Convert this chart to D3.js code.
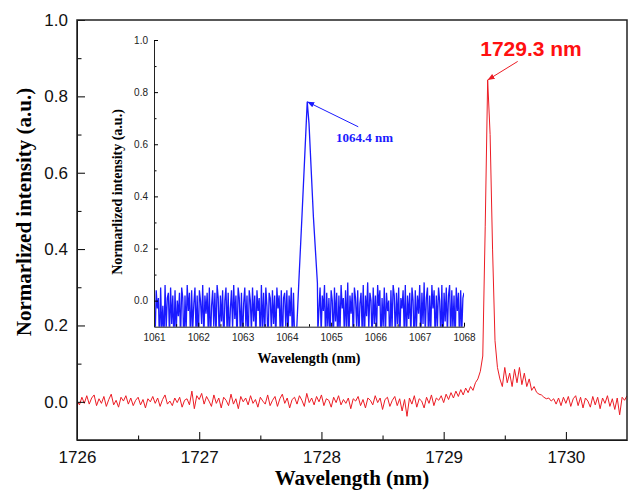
<!DOCTYPE html>
<html>
<head>
<meta charset="utf-8">
<script src="https://cdnjs.cloudflare.com/ajax/libs/d3/7.8.5/d3.min.js"></script>
<style>
  body { margin: 0; background: #fff; }
  svg { display: block; }
  .tick text { font-family: Arial, "Liberation Sans", sans-serif; fill: #111; }
  .title { font-family: "Times New Roman", "Liberation Serif", serif; font-weight: bold; }
</style>
</head>
<body>
<div id="chart"></div>
<script>
// ---- main spectrum (1726 - 1730.5 nm), one value every 0.02 nm ----
var mainStart = 1726.0,
    mainStep = 0.02;
var mainIntensity = [
  0.002, -0.008, 0.012, -0.004, 0.016, -0.006, 0.010, 0.018, -0.010, 0.008,
  -0.004, 0.014, -0.012, 0.006, 0.020, -0.008, 0.004, -0.014, 0.012, 0.002,
  0.016, -0.006, 0.010, -0.010, 0.004, 0.012, -0.008, 0.006, -0.016, 0.008,
  0.000, 0.014, -0.004, 0.010, -0.012, 0.006, 0.018, -0.006, 0.002, -0.010,
  0.010, -0.002, 0.012, -0.014, 0.004, 0.008, -0.008, 0.028, -0.018, 0.016,
  0.006, 0.022, -0.006, 0.014, 0.002, -0.012, 0.018, -0.004, 0.010, -0.016,
  0.012, 0.004, -0.010, 0.020, -0.006, 0.008, -0.018, 0.014, 0.000, 0.010,
  -0.008, 0.016, -0.004, 0.006, -0.014, 0.012, 0.002, -0.006, 0.018, -0.010,
  0.004, 0.014, -0.012, 0.008, 0.020, -0.004, 0.010, -0.016, 0.006, 0.012,
  -0.006, 0.016, 0.004, -0.012, 0.022, -0.002, 0.010, -0.008, 0.014, 0.000,
  0.018, -0.010, 0.008, 0.004, -0.014, 0.012, -0.002, 0.016, -0.008, 0.006,
  -0.004, 0.010, -0.018, 0.008, 0.002, 0.014, -0.010, 0.006, -0.016, 0.010,
  0.004, -0.008, 0.016, -0.002, 0.010, -0.020, 0.006, 0.012, -0.012, 0.004,
  0.014, -0.010, 0.008, -0.024, 0.006, -0.038, 0.010, -0.006, 0.016, -0.014,
  0.008, 0.002, -0.016, 0.012, -0.004, 0.018, -0.010, 0.010, 0.004, 0.016,
  -0.002, 0.020, 0.006, 0.024, 0.010, 0.028, 0.014, 0.032, 0.018, 0.036,
  0.024, 0.040, 0.030, 0.050, 0.060, 0.080, 0.120, 0.460, 0.843, 0.700,
  0.400, 0.160, 0.090, 0.060, 0.040, 0.090, 0.050, 0.075, 0.040, 0.085,
  0.050, 0.090, 0.045, 0.075, 0.040, 0.060, 0.030, 0.040, 0.025, 0.020,
  0.018, 0.012, 0.008, 0.010, 0.002, 0.008, -0.006, 0.010, -0.010, 0.012,
  -0.004, 0.014, -0.012, 0.008, 0.016, -0.010, 0.012, -0.016, 0.010, 0.002,
  -0.014, 0.014, -0.008, 0.012, -0.018, 0.010, -0.004, 0.016, -0.012, 0.008,
  -0.020, 0.010, -0.034, 0.012, 0.004, 0.016
];
var mainXTicks = [1726, 1727, 1728, 1729, 1730];
var mainYTicks = [0.0, 0.2, 0.4, 0.6, 0.8, 1.0];
var mainPeak = {wl: 1729.36, value: 0.843, label: "1729.3 nm"};

// ---- inset spectrum (1061 - 1068 nm) ----
var insetLeftStart = 1061.0,
    insetRightStart = 1064.75,
    insetStep = 0.025;
var insetLeftNoise = [
  0.02,-0.15,0.04,-0.03,0.01,-0.18,0.05,-0.12,-0.02,-0.16,
  0.06,-0.11,0.01,0.03,-0.14,0.05,-0.09,0.02,-0.17,0.04,
  -0.13,0.00,-0.06,0.03,-0.15,0.05,0.01,-0.19,0.02,-0.12,
  0.06,-0.04,0.03,-0.16,0.04,-0.11,-0.01,0.05,-0.13,0.02,
  -0.18,0.04,0.00,-0.09,0.06,-0.15,0.02,-0.05,0.03,-0.12,
  0.05,-0.17,-0.02,0.04,-0.10,0.03,-0.14,0.06,0.01,-0.16,
  0.02,-0.08,0.04,-0.18,0.00,0.05,-0.12,0.03,-0.15,-0.03,
  0.04,-0.11,0.06,-0.07,0.02,-0.17,0.05,0.01,-0.13,0.03,
  -0.16,-0.01,0.05,-0.10,0.02,-0.19,0.04,0.00,-0.12,0.05,
  -0.08,0.02,-0.15,0.04,-0.04,0.01,-0.16,0.06,-0.11,0.03,
  -0.14,0.05,-0.02,-0.17,0.03,0.01,-0.12,0.04,-0.09,0.02,
  -0.16,0.05,-0.03,0.02,-0.13,0.04,-0.18,0.01,0.03,-0.10,
  0.04,-0.15,0.02,-0.06,0.05,-0.17,0.03,-0.14,-0.16
];
var insetPeakWl  = [1064.22, 1064.27, 1064.34, 1064.40, 1064.46, 1064.50, 1064.60, 1064.69, 1064.70];
var insetPeakVal = [-0.12,   0.07,    0.32,    0.54,    0.763,   0.68,    0.32,    0.067,   -0.12];
var insetRightNoise = [
  0.05,-0.13,0.02,-0.04,0.06,-0.17,0.03,-0.10,0.01,-0.15,
  0.04,0.00,-0.16,0.05,-0.08,0.03,-0.18,0.02,-0.12,0.06,
  -0.03,0.01,-0.14,0.04,-0.11,0.07,-0.16,0.02,-0.05,0.03,
  -0.17,0.05,0.01,-0.10,0.04,-0.15,-0.01,0.03,-0.12,0.06,
  -0.18,0.02,-0.06,0.07,-0.11,0.03,0.00,-0.16,0.05,-0.09,
  0.02,-0.13,0.06,-0.02,0.04,-0.17,0.01,-0.10,0.05,-0.14,
  0.03,-0.04,0.00,-0.18,0.04,-0.11,0.06,0.02,-0.15,0.03,
  -0.09,0.05,-0.16,0.01,-0.03,0.04,-0.12,0.06,-0.17,0.02,
  -0.07,0.03,-0.14,0.05,0.00,-0.18,0.04,-0.11,0.02,-0.05,
  0.06,-0.15,0.03,-0.09,0.07,-0.13,0.01,0.05,-0.17,0.02,
  -0.12,0.06,-0.03,0.04,-0.16,0.02,-0.10,0.05,0.00,-0.14,
  0.06,-0.18,0.03,-0.08,0.05,-0.13,0.02,0.06,-0.15,0.04,
  -0.11,0.02,-0.16,0.05,-0.04,0.03,-0.17,0.04,-0.12,0.01,
  0.03
];
var insetXTicks = [1061, 1062, 1063, 1064, 1065, 1066, 1067, 1068];
var insetYTicks = [0.0, 0.2, 0.4, 0.6, 0.8, 1.0];
var insetPeak = {wl: 1064.46, value: 0.763, label: "1064.4 nm"};

var RED = "#ec1c24", LABEL_RED = "#ff1010", BLUE = "#1a1aff";

var svg = d3.select("#chart")
  .append("svg")
    .attr("width", 631)
    .attr("height", 494);

var defs = svg.append("defs");
[["arrowRed", RED], ["arrowBlue", BLUE]].forEach(function (m) {
  defs.append("marker")
      .attr("id", m[0])
      .attr("viewBox", "0 -5 10 10")
      .attr("refX", 10)
      .attr("refY", 0)
      .attr("markerWidth", 7)
      .attr("markerHeight", 7)
      .attr("markerUnits", "userSpaceOnUse")
      .attr("orient", "auto")
    .append("path")
      .attr("d", "M0,-4L10,0L0,4Z")
      .attr("fill", m[1]);
});

// ================= main chart =================
var main = {left: 77, right: 627, top: 20, bottom: 440};

var xScale = d3.scaleLinear().domain([1726, 1730.5]).range([main.left, main.right]),
    yScale = d3.scaleLinear().domain([-0.1, 1.0]).range([main.bottom, main.top]);

defs.append("clipPath").attr("id", "clipMain")
  .append("rect")
    .attr("x", main.left).attr("y", main.top)
    .attr("width", main.right - main.left).attr("height", main.bottom - main.top);

var mainData = mainIntensity.map(function (v, i) {
  return {wl: mainStart + i * mainStep, value: v};
});

var mainLine = d3.line()
    .x(function (d) { return xScale(d.wl); })
    .y(function (d) { return yScale(d.value); });

svg.append("path")
    .datum(mainData)
    .attr("clip-path", "url(#clipMain)")
    .attr("fill", "none")
    .attr("stroke", RED)
    .attr("stroke-width", 1)
    .attr("stroke-linejoin", "round")
    .attr("d", mainLine);

// minor ticks
svg.append("g")
    .attr("transform", "translate(0," + main.bottom + ")")
    .call(d3.axisBottom(xScale).tickValues([1726.5, 1727.5, 1728.5, 1729.5])
      .tickSize(-4.5).tickFormat(""))
    .call(function (g) { g.select(".domain").remove(); });
svg.append("g")
    .attr("transform", "translate(" + main.left + ",0)")
    .call(d3.axisLeft(yScale).tickValues([-0.1, 0.1, 0.3, 0.5, 0.7, 0.9])
      .tickSize(-4.5).tickFormat(""))
    .call(function (g) { g.select(".domain").remove(); });

// major ticks + labels
svg.append("g")
    .attr("class", "x-axis")
    .attr("transform", "translate(0," + main.bottom + ")")
    .call(d3.axisBottom(xScale).tickValues(mainXTicks)
      .tickSizeInner(-8).tickSizeOuter(0).tickPadding(11).tickFormat(d3.format("d")))
    .call(function (g) { g.selectAll("text").style("font-size", "17px"); });

svg.append("g")
    .attr("class", "y-axis")
    .attr("transform", "translate(" + main.left + ",0)")
    .call(d3.axisLeft(yScale).tickValues(mainYTicks)
      .tickSizeInner(-8).tickSizeOuter(0).tickPadding(9).tickFormat(d3.format(".1f")))
    .call(function (g) { g.selectAll("text").style("font-size", "17px"); });

svg.selectAll(".x-axis path, .y-axis path, .tick line").attr("stroke", "#000");

// frame
svg.append("rect")
    .attr("x", main.left).attr("y", main.top)
    .attr("width", main.right - main.left).attr("height", main.bottom - main.top)
    .attr("fill", "none")
    .attr("stroke", "#222")
    .attr("stroke-width", 1.5);

svg.append("text")
    .attr("class", "title")
    .attr("x", (main.left + main.right) / 2)
    .attr("y", 485)
    .attr("text-anchor", "middle")
    .style("font-size", "21px")
    .text("Wavelength (nm)");

svg.append("text")
    .attr("class", "title")
    .attr("transform", "translate(31,212) rotate(-90)")
    .attr("text-anchor", "middle")
    .style("font-size", "21px")
    .text("Normarlized intensity (a.u.)");

// peak annotation
svg.append("line")
    .attr("x1", xScale(mainPeak.wl) + 30).attr("y1", yScale(mainPeak.value) - 18.5)
    .attr("x2", xScale(mainPeak.wl)).attr("y2", yScale(mainPeak.value))
    .attr("stroke", RED)
    .attr("stroke-width", 1)
    .attr("marker-end", "url(#arrowRed)");

svg.append("text")
    .attr("x", 531)
    .attr("y", 56)
    .attr("text-anchor", "middle")
    .attr("fill", LABEL_RED)
    .style("font-family", "Arial, 'Liberation Sans', sans-serif")
    .style("font-weight", "bold")
    .style("font-size", "21px")
    .text(mainPeak.label);

// ================= inset =================
var inset = {left: 154, right: 464, top: 40, bottom: 326.7};

var xInset = d3.scaleLinear().domain([1061, 1068]).range([inset.left, inset.right]),
    yInset = d3.scaleLinear().domain([-0.1, 1.0]).range([inset.bottom, inset.top]);

defs.append("clipPath").attr("id", "clipInset")
  .append("rect")
    .attr("x", inset.left).attr("y", inset.top)
    .attr("width", inset.right - inset.left).attr("height", inset.bottom - inset.top);

var insetData = insetLeftNoise.map(function (v, i) {
      return {wl: insetLeftStart + i * insetStep, value: v};
    })
    .concat(insetPeakWl.map(function (w, i) { return {wl: w, value: insetPeakVal[i]}; }))
    .concat(insetRightNoise.map(function (v, i) {
      return {wl: insetRightStart + i * insetStep, value: v};
    }));

var insetLine = d3.line()
    .x(function (d) { return xInset(d.wl); })
    .y(function (d) { return yInset(d.value); });

svg.append("path")
    .datum(insetData)
    .attr("clip-path", "url(#clipInset)")
    .attr("fill", "none")
    .attr("stroke", BLUE)
    .attr("stroke-width", 1.3)
    .attr("d", insetLine);

svg.append("g")
    .attr("transform", "translate(0," + inset.bottom + ")")
    .call(d3.axisBottom(xInset).tickValues(d3.range(1061.5, 1068, 1))
      .tickSize(-2.5).tickFormat(""))
    .call(function (g) { g.select(".domain").remove(); });
svg.append("g")
    .attr("transform", "translate(" + inset.left + ",0)")
    .call(d3.axisLeft(yInset).tickValues([0.1, 0.3, 0.5, 0.7, 0.9])
      .tickSize(-2.5).tickFormat(""))
    .call(function (g) { g.select(".domain").remove(); });

svg.append("g")
    .attr("class", "inset-x")
    .attr("transform", "translate(0," + inset.bottom + ")")
    .call(d3.axisBottom(xInset).tickValues(insetXTicks)
      .tickSizeInner(-4).tickSizeOuter(0).tickPadding(7.5).tickFormat(d3.format("d")))
    .call(function (g) { g.selectAll("text").style("font-size", "10px").style("fill", "#222"); });

svg.append("g")
    .attr("class", "inset-y")
    .attr("transform", "translate(" + inset.left + ",0)")
    .call(d3.axisLeft(yInset).tickValues(insetYTicks)
      .tickSizeInner(-4).tickSizeOuter(0).tickPadding(6).tickFormat(d3.format(".1f")))
    .call(function (g) { g.selectAll("text").style("font-size", "10px").style("fill", "#222"); });

svg.selectAll(".inset-x path, .inset-y path").attr("stroke", "#222");

svg.append("text")
    .attr("class", "title")
    .attr("x", (inset.left + inset.right) / 2)
    .attr("y", 363)
    .attr("text-anchor", "middle")
    .style("font-size", "14px")
    .text("Wavelength (nm)");

svg.append("text")
    .attr("class", "title")
    .attr("transform", "translate(122,192) rotate(-90)")
    .attr("text-anchor", "middle")
    .style("font-size", "14px")
    .text("Normarlized intensity (a.u.)");

svg.append("line")
    .attr("x1", xInset(insetPeak.wl) + 51).attr("y1", yInset(insetPeak.value) + 25)
    .attr("x2", xInset(insetPeak.wl)).attr("y2", yInset(insetPeak.value))
    .attr("stroke", BLUE)
    .attr("stroke-width", 1)
    .attr("marker-end", "url(#arrowBlue)");

svg.append("text")
    .attr("class", "title")
    .attr("x", 336)
    .attr("y", 142)
    .attr("fill", BLUE)
    .style("font-size", "13px")
    .text(insetPeak.label);
</script>
</body>
</html>
